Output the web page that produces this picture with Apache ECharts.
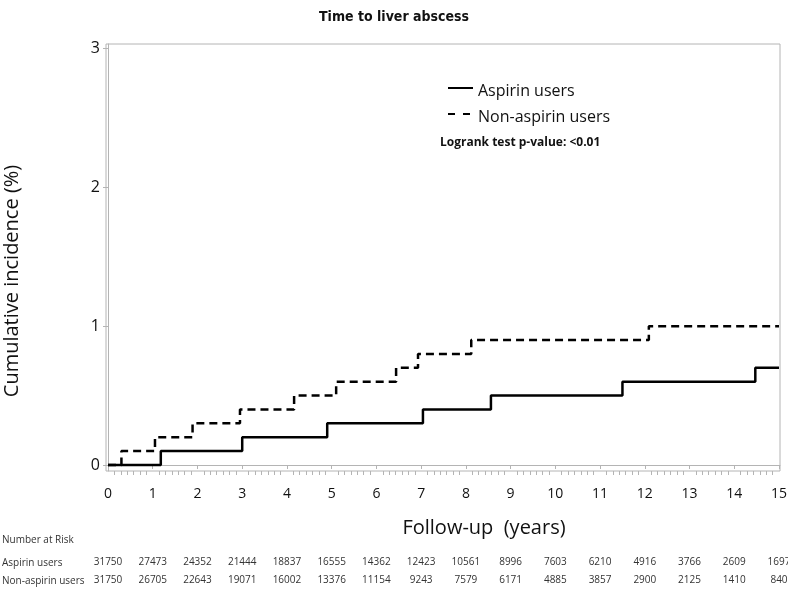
<!DOCTYPE html>
<html>
<head>
<meta charset="utf-8">
<script src="https://cdn.jsdelivr.net/npm/echarts@6/dist/echarts.min.js"></script>
<style>
html,body{margin:0;padding:0;background:#fff;}
#chart{width:788px;height:596px;}
</style>
</head>
<body>
<div id="chart"></div>
<script>
// ---- data ----
const years = [0,1,2,3,4,5,6,7,8,9,10,11,12,13,14,15];
const aspirinTimes  = [0, 1.18, 3.0, 4.9, 7.04, 8.56, 11.5, 14.47, 15];
const aspirinValues = [0, 0.1, 0.2, 0.3, 0.4, 0.5, 0.6, 0.7, 0.7];
const nonTimes  = [0, 0.3, 1.05, 1.89, 2.95, 4.16, 5.1, 6.44, 6.93, 8.12, 12.09, 15];
const nonValues = [0, 0.1, 0.2, 0.3, 0.4, 0.5, 0.6, 0.7, 0.8, 0.9, 1.0, 1.0];
const yTicks = [0, 1, 2, 3];
const aspirinRisk = [31750,27473,24352,21444,18837,16555,14362,12423,10561,8996,7603,6210,4916,3766,2609,1697];
const nonRisk     = [31750,26705,22643,19071,16002,13376,11154,9243,7579,6171,4885,3857,2900,2125,1410,840];
const seriesNames = ['Aspirin users', 'Non-aspirin users'];

const minorTicks = [];
for (let y = 0; y < 15; y++) for (let k = 1; k < 7; k++) minorTicks.push(y + k / 7);

const FONT = '"Open Sans", "Noto Sans", sans-serif';
const AX = '#b4b4b4';
const X_MIN = -0.045, X_MAX = 15.022;

const chart = echarts.init(document.getElementById('chart'), null, {renderer: 'canvas'});

function riskAxis(arr, offset) {
  return {
    type: 'value', gridIndex: 0, position: 'bottom', min: X_MIN, max: X_MAX, offset: offset,
    axisLine: {show: false}, axisTick: {show: false}, splitLine: {show: false},
    axisLabel: {
      customValues: years, margin: 0, fontSize: 10, color: '#333', fontFamily: FONT,
      formatter: v => String(arr[Math.round(v)])
    }
  };
}

chart.setOption({
  animation: false,
  backgroundColor: '#fff',
  title: {
    text: 'Time to liver abscess', left: 'center', top: 5,
    textStyle: {fontSize: 14, fontWeight: 'bold', color: '#111', fontFamily: '"DejaVu Sans Condensed", "Open Sans", sans-serif'}
  },
  grid: {left: 106, right: 8, top: 44, bottom: 125, show: true, borderColor: AX, borderWidth: 1,
         containLabel: false, outerBoundsMode: 'none'},
  xAxis: [
    {
      type: 'value', min: X_MIN, max: X_MAX,
      axisLine: {show: true, lineStyle: {color: AX}},
      axisTick: {show: true, customValues: years, length: 4, lineStyle: {color: AX}},
      axisLabel: {customValues: years, fontSize: 14, color: '#111', margin: 16, fontFamily: FONT},
      splitLine: {show: false}
    },
    {
      type: 'value', min: X_MIN, max: X_MAX, position: 'bottom',
      axisLine: {show: false},
      axisTick: {show: true, customValues: minorTicks, length: 4, lineStyle: {color: AX}},
      axisLabel: {show: false}, splitLine: {show: false}
    },
    riskAxis(aspirinRisk, 86),
    riskAxis(nonRisk, 104)
  ],
  yAxis: {
    type: 'value', min: -0.0432, max: 3.032,
    axisLine: {show: true, lineStyle: {color: AX}},
    axisTick: {show: true, customValues: yTicks, length: 5, lineStyle: {color: AX}},
    axisLabel: {customValues: yTicks, fontSize: 16, color: '#111', margin: 6, fontFamily: FONT},
    splitLine: {show: false}
  },
  series: [
    {
      name: seriesNames[0], type: 'line', step: 'end', symbol: 'none',
      data: aspirinTimes.map((t, i) => [t, aspirinValues[i]]),
      lineStyle: {color: '#000', width: 2.5, type: 'solid'}, itemStyle: {color: '#000'}, z: 3
    },
    {
      name: seriesNames[1], type: 'line', step: 'end', symbol: 'none',
      data: nonTimes.map((t, i) => [t, nonValues[i]]),
      lineStyle: {color: '#000', width: 2.5, type: [8, 5]}, itemStyle: {color: '#000'}, z: 2
    }
  ],
  graphic: [
    {type: 'line', shape: {x1: 448, y1: 88, x2: 473, y2: 88}, style: {stroke: '#000', lineWidth: 2}},
    {type: 'line', shape: {x1: 448, y1: 114, x2: 473, y2: 114}, style: {stroke: '#000', lineWidth: 2, lineDash: [7, 8]}},
    {type: 'text', x: 478, y: 91, style: {text: seriesNames[0], fontSize: 16, fill: '#111', fontFamily: FONT, verticalAlign: 'middle'}},
    {type: 'text', x: 478, y: 117, style: {text: seriesNames[1], fontSize: 16, fill: '#111', fontFamily: FONT, verticalAlign: 'middle'}},
    {type: 'text', x: 440, y: 143, style: {text: 'Logrank test p-value: <0.01', fontSize: 12, fontWeight: 'bold', fill: '#111', fontFamily: FONT, verticalAlign: 'middle'}},
    {type: 'text', x: 12, y: 281, rotation: Math.PI / 2,
      style: {text: 'Cumulative incidence (%)', fontSize: 20, fill: '#111', fontFamily: FONT, align: 'center', verticalAlign: 'middle'}},
    {type: 'text', x: 484, y: 528, style: {text: 'Follow-up  (years)', fontSize: 20, fill: '#111', fontFamily: FONT, align: 'center', verticalAlign: 'middle'}},
    {type: 'text', x: 2, y: 540, style: {text: 'Number at Risk', fontSize: 10, fill: '#333', fontFamily: FONT, verticalAlign: 'middle'}},
    {type: 'text', x: 2, y: 563, style: {text: 'Aspirin users', fontSize: 10, fill: '#333', fontFamily: FONT, verticalAlign: 'middle'}},
    {type: 'text', x: 2, y: 581, style: {text: 'Non-aspirin users', fontSize: 10, fill: '#333', fontFamily: FONT, verticalAlign: 'middle'}}
  ]
});
</script>
</body>
</html>
